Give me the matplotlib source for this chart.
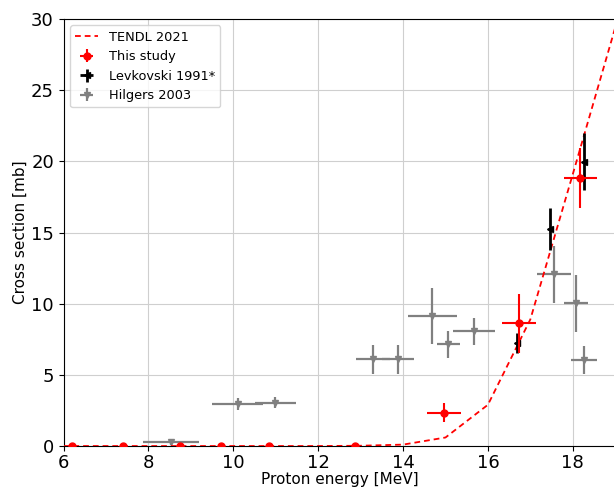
import matplotlib
matplotlib.use("Agg")
import matplotlib.pyplot as plt
import numpy as np

# TENDL 2021
tendl_e = [6, 7, 8, 9, 10, 11, 12, 13, 14, 15, 16, 17, 18, 19]
tendl_xs = [0, 0, 0, 0, 0, 0, 0, 0.02, 0.1, 0.6, 2.9, 8.9, 19.1, 29.4]

# This study
this_e = [6.2, 7.4, 8.75, 9.72, 10.83, 12.86, 14.97, 16.74, 18.18]
this_ex = [0, 0, 0, 0, 0, 0, 0.4, 0.4, 0.38]
this_xs = [0, 0, 0, 0, 0, 0, 2.34, 8.62, 18.83]
this_ey = [0, 0, 0, 0, 0, 0, 0.67, 2.05, 2.1]

# Levkovski 1991*
lev_e = [16.68, 17.46, 18.26]
lev_ex = [0.04, 0.04, 0.04]
lev_xs = [7.26, 15.25, 19.98]
lev_ey = [0.7, 1.5, 2.0]

# Hilgers 2003
hil_e = [8.53, 10.1, 10.99, 13.29, 13.88, 14.69, 15.07, 15.67, 17.56, 18.08, 18.26]
hil_ex = [0.67, 0.6, 0.48, 0.41, 0.38, 0.58, 0.28, 0.49, 0.4, 0.28, 0.3]
hil_xs = [0.3, 2.95, 3.04, 6.09, 6.09, 9.14, 7.15, 8.08, 12.07, 10.03, 6.04]
hil_ey = [0.2, 0.4, 0.4, 1.0, 1.0, 1.95, 0.95, 0.95, 2.0, 2.0, 1.0]

fig = plt.figure(figsize=(6.14, 4.88), dpi=100)
ax = fig.add_axes([0.1036, 0.086, 0.8984, 0.875])

ax.plot(tendl_e, tendl_xs, '--', color='red', lw=1.3, dashes=(3.2, 2.2),
        label='TENDL 2021', zorder=3)
ax.errorbar(this_e, this_xs, xerr=this_ex, yerr=this_ey, fmt='o', color='red',
            ms=5, elinewidth=1.5, capsize=0, label='This study', zorder=5)
ax.errorbar(lev_e, lev_xs, xerr=lev_ex, yerr=lev_ey, fmt='<', color='black',
            ms=4.5, elinewidth=2, capsize=0, label='Levkovski 1991*', zorder=4)
ax.errorbar(hil_e, hil_xs, xerr=hil_ex, yerr=hil_ey, fmt='v', color='gray',
            ms=4.5, elinewidth=1.6, capsize=0, label='Hilgers 2003', zorder=2)

ax.set_xlim(6, 19)
ax.set_ylim(0, 30)
ax.set_xticks([6, 8, 10, 12, 14, 16, 18])
ax.set_yticks([0, 5, 10, 15, 20, 25, 30])
ax.tick_params(labelsize=13)
ax.tick_params(axis='x', pad=2)
ax.grid(True, color='#cfcfcf', lw=0.8)
ax.set_axisbelow(True)
ax.set_xlabel('Proton energy [MeV]', fontsize=11, labelpad=0.5)
ax.set_ylabel('Cross section [mb]', fontsize=11, labelpad=2)
ax.legend(loc='upper left', fontsize=9.3, handlelength=1.8)

fig.savefig('out.png', dpi=100)
